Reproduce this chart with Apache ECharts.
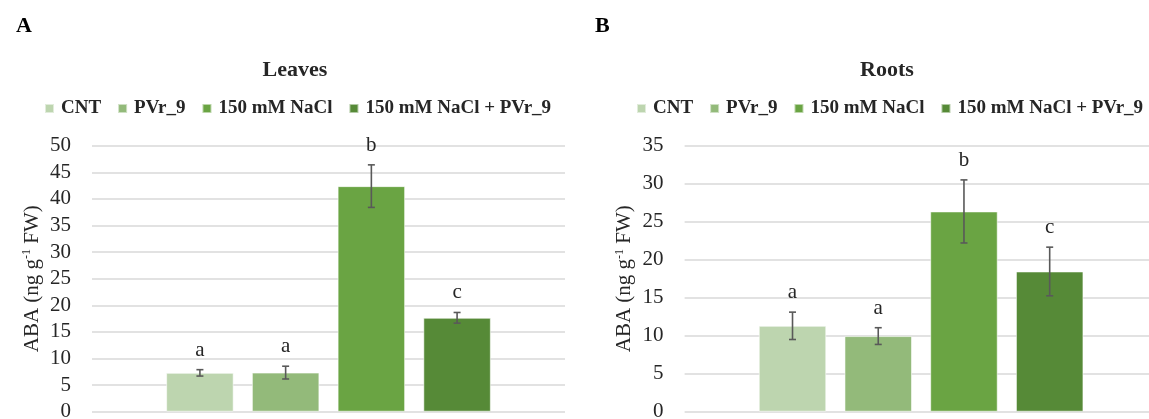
<!DOCTYPE html>
<html>
<head>
<meta charset="utf-8">
<script src="https://cdn.jsdelivr.net/npm/echarts@6/dist/echarts.min.js"></script>
<style>
html,body{margin:0;padding:0;background:#fff;}
#chart{width:1149px;height:419px;}
</style>
</head>
<body>
<div id="chart"></div>
<script>
// ---- data ----
const seriesNames = ['CNT', 'PVr_9', '150 mM NaCl', '150 mM NaCl + PVr_9'];
const leavesValues = [7.3, 7.35, 42.4, 17.65];
const leavesErrors = [0.6, 1.2, 4.0, 1.0];
const leavesLetters = ['a', 'a', 'b', 'c'];
const rootsValues = [11.3, 9.95, 26.35, 18.45];
const rootsErrors = [1.8, 1.1, 4.15, 3.2];
const rootsLetters = ['a', 'a', 'b', 'c'];
const leavesTicks = [0, 50, 5];   // min, max, interval
const rootsTicks = [0, 35, 5];
const panelTitles = ['Leaves', 'Roots'];
const panelLetters = ['A', 'B'];

// ---- style ----
const colors = ['#bdd5af', '#93ba7a', '#6aa443', '#568a37'];
const FONT = '"Liberation Serif", "Times New Roman", serif';
const TXT = '#262626';
const BAR_W = 67.5;
const BAR_GAP = '27%';

const chart = echarts.init(document.getElementById('chart'), null, {renderer: 'canvas'});

function yAxisFor(gridIndex, ticks) {
  return {
    type: 'value', gridIndex: gridIndex,
    min: ticks[0], max: ticks[1], interval: ticks[2],
    axisLine: {show: false}, axisTick: {show: false},
    axisLabel: {fontFamily: FONT, fontSize: 21, color: TXT, margin: 21},
    splitLine: {lineStyle: {color: '#d9d9d9', width: 1.5}},
    name: 'ABA (ng g{sup|-1} FW)',
    nameLocation: 'middle', nameRotate: 90, nameGap: 49,
    nameTextStyle: {
      fontFamily: FONT, fontSize: 21, color: TXT,
      rich: {sup: {fontFamily: FONT, fontSize: 12, color: TXT, verticalAlign: 'top', lineHeight: 22}}
    }
  };
}
function xAxisFor(gridIndex) {
  return {
    type: 'category', gridIndex: gridIndex, data: [''],
    axisLine: {show: false}, axisTick: {show: false}, axisLabel: {show: false},
    splitLine: {show: false}
  };
}

function errorSeries(gridIndex, values, errors, letters) {
  const data = values.map((v, i) => [0, v, errors[i], letters[i], i]);
  return {
    type: 'custom', xAxisIndex: gridIndex, yAxisIndex: gridIndex,
    silent: true, z: 10,
    data: data,
    renderItem: function (params, api) {
      const v = api.value(1), e = api.value(2), idx = api.value(4);
      const letter = data[params.dataIndex][3];
      let off = (idx - 1.5) * BAR_W * 1.27;
      if (api.barLayout) {
        const lay = api.barLayout({count: 4, barWidth: BAR_W, barGap: BAR_GAP});
        if (lay && lay[idx]) off = lay[idx].offsetCenter;
      }
      const cx = api.coord([0, v])[0] + off;
      const yTop = api.coord([0, v + e])[1];
      const yBot = api.coord([0, v - e])[1];
      const stroke = {stroke: '#595959', lineWidth: 1.6};
      const cap = 3.5;
      return {
        type: 'group',
        children: [
          {type: 'line', shape: {x1: cx, y1: yTop, x2: cx, y2: yBot}, style: stroke},
          {type: 'line', shape: {x1: cx - cap, y1: yTop, x2: cx + cap, y2: yTop}, style: stroke},
          {type: 'line', shape: {x1: cx - cap, y1: yBot, x2: cx + cap, y2: yBot}, style: stroke},
          {type: 'text', style: {text: letter, x: cx, y: yTop - 19.5, align: 'center', verticalAlign: 'middle',
            font: '21px ' + FONT, fill: TXT}}
        ]
      };
    }
  };
}

function barSeries(gridIndex, values) {
  return seriesNames.map((name, i) => ({
    name: name, type: 'bar', xAxisIndex: gridIndex, yAxisIndex: gridIndex,
    barWidth: BAR_W, barGap: BAR_GAP,
    itemStyle: {color: colors[i], borderColor: 'rgba(255,255,255,0.55)', borderWidth: 1},
    data: [values[i]]
  }));
}

function legendFor(left) {
  return {
    data: seriesNames, left: left, top: 99, orient: 'horizontal', padding: 0,
    icon: 'rect', itemWidth: 9, itemHeight: 9, itemGap: 16,
    textStyle: {fontFamily: FONT, fontSize: 19, fontWeight: 'bold', color: TXT, padding: [0, 0, 0, 2]},
    selectedMode: false
  };
}

const option = {
  animation: false,
  backgroundColor: '#ffffff',
  title: [
    {text: panelTitles[0], left: 290, top: 54, textAlign: 'center',
     textStyle: {fontFamily: FONT, fontSize: 22, fontWeight: 'bold', color: TXT}},
    {text: panelTitles[1], left: 882, top: 54, textAlign: 'center',
     textStyle: {fontFamily: FONT, fontSize: 22, fontWeight: 'bold', color: TXT}},
    {text: panelLetters[0], left: 11, top: 10,
     textStyle: {fontFamily: FONT, fontSize: 22, fontWeight: 'bold', color: '#000'}},
    {text: panelLetters[1], left: 590, top: 10,
     textStyle: {fontFamily: FONT, fontSize: 22, fontWeight: 'bold', color: '#000'}}
  ],
  legend: [legendFor(44), legendFor(636)],
  grid: [
    {left: 92, right: 584, top: 145.7, bottom: 7.3, containLabel: false, outerBoundsMode: 'none'},
    {left: 684.6, right: -8.6, top: 145.7, bottom: 7.3, containLabel: false, outerBoundsMode: 'none'}
  ],
  xAxis: [xAxisFor(0), xAxisFor(1)],
  yAxis: [yAxisFor(0, leavesTicks), yAxisFor(1, rootsTicks)],
  series: [].concat(
    barSeries(0, leavesValues),
    barSeries(1, rootsValues),
    [errorSeries(0, leavesValues, leavesErrors, leavesLetters),
     errorSeries(1, rootsValues, rootsErrors, rootsLetters)]
  )
};
chart.setOption(option);
</script>
</body>
</html>
